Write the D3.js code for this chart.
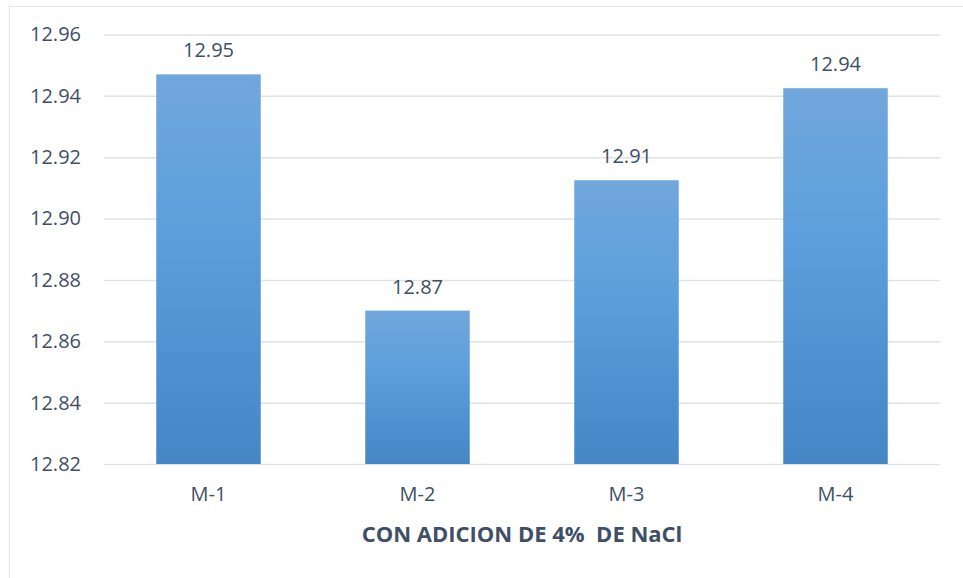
<!DOCTYPE html>
<html>
<head>
<meta charset="utf-8">
<script src="https://cdn.jsdelivr.net/npm/d3@7/dist/d3.min.js"></script>
<style>
  html, body { margin: 0; padding: 0; background: #fff; }
  svg { display: block; }
</style>
</head>
<body>
<svg id="chart" width="963" height="578"></svg>
<script>
// pH readings per sample, with 4% NaCl added
const categories = ["M-1", "M-2", "M-3", "M-4"];
const values = [12.947, 12.870, 12.9125, 12.9425];
const yTicks = [12.82, 12.84, 12.86, 12.88, 12.90, 12.92, 12.94, 12.96];
const xTitle = "CON ADICION DE 4%  DE NaCl";

const W = 963, H = 578;
const margin = { top: 34.5, right: 23, bottom: 114, left: 104 };
const svg = d3.select("#chart");

const fontFam = "'Open Sans', 'Liberation Sans', sans-serif";
const textColor = "#3f4f66";

// Chart frame (top and left edges visible)
svg.append("line").attr("x1", 9.5).attr("x2", W).attr("y1", 6.5).attr("y2", 6.5)
  .attr("stroke", "#e3e6ea").attr("stroke-width", 1.2);
svg.append("line").attr("x1", 9.5).attr("x2", 9.5).attr("y1", 6.5).attr("y2", H)
  .attr("stroke", "#e3e6ea").attr("stroke-width", 1.2);

const x = d3.scaleBand()
  .domain(categories)
  .range([margin.left, W - margin.right])
  .paddingInner(0.5)
  .paddingOuter(0.25);

const y = d3.scaleLinear()
  .domain([12.82, 12.96])
  .range([H - margin.bottom, margin.top]);

// Bar gradient: lighter at top, deeper at bottom
const defs = svg.append("defs");
const grad = defs.append("linearGradient")
  .attr("id", "barGrad").attr("x1", 0).attr("y1", 0).attr("x2", 0).attr("y2", 1);
grad.append("stop").attr("offset", "0%").attr("stop-color", "#71a7dc");
grad.append("stop").attr("offset", "40%").attr("stop-color", "#5c9fdc");
grad.append("stop").attr("offset", "100%").attr("stop-color", "#4586c6");

// Horizontal gridlines with tick labels
const yAxis = d3.axisLeft(y)
  .tickValues(yTicks)
  .tickFormat(d3.format(".2f"))
  .tickSize(-(W - margin.left - margin.right))
  .tickPadding(23);

const gy = svg.append("g")
  .attr("transform", `translate(${margin.left},0)`)
  .call(yAxis);
gy.select(".domain").remove();
gy.selectAll(".tick line").attr("stroke", "#dfe2e6").attr("stroke-width", 1.5);
gy.selectAll(".tick text")
  .attr("fill", textColor)
  .style("font-family", fontFam)
  .style("font-size", "20px");

// Bars
svg.append("g").selectAll("rect")
  .data(categories.map((c, i) => ({ c, v: values[i] })))
  .join("rect")
  .attr("x", d => x(d.c))
  .attr("width", x.bandwidth())
  .attr("y", d => y(d.v))
  .attr("height", d => y(12.82) - y(d.v))
  .attr("fill", "url(#barGrad)");

// Value labels above bars
svg.append("g").selectAll("text")
  .data(categories.map((c, i) => ({ c, v: values[i] })))
  .join("text")
  .attr("x", d => x(d.c) + x.bandwidth() / 2)
  .attr("y", d => y(d.v) - 17)
  .attr("text-anchor", "middle")
  .attr("fill", textColor)
  .style("font-family", fontFam)
  .style("font-size", "20px")
  .text(d => d3.format(".2f")(d.v));

// Category axis labels
const xAxis = d3.axisBottom(x).tickSize(0).tickPadding(23);
const gx = svg.append("g")
  .attr("transform", `translate(0,${y(12.82)})`)
  .call(xAxis);
gx.select(".domain").remove();
gx.selectAll(".tick text")
  .attr("fill", textColor)
  .style("font-family", fontFam)
  .style("font-size", "20px");

// Axis title
svg.append("text")
  .attr("x", (margin.left + W - margin.right) / 2)
  .attr("y", 542)
  .attr("text-anchor", "middle")
  .attr("fill", textColor)
  .style("font-family", fontFam)
  .style("font-size", "22px")
  .style("font-weight", "bold")
  .style("white-space", "pre")
  .text(xTitle);
</script>
</body>
</html>
